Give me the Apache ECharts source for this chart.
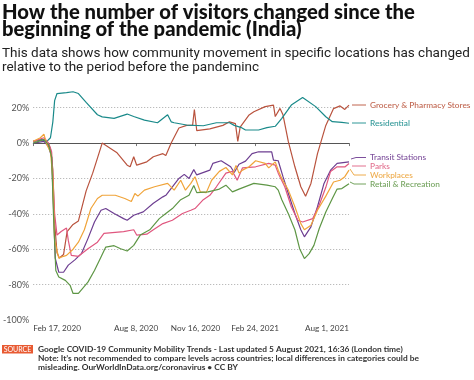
<!DOCTYPE html>
<html><head><meta charset="utf-8">
<script src="https://cdn.jsdelivr.net/npm/echarts@6/dist/echarts.min.js"></script>
<style>html,body{margin:0;padding:0;background:#fff}#c{width:474px;height:380px}</style>
</head><body><div id="c"></div><script>
const startDate = '2020-02-17';
const endDate = '2021-08-01';
const tickDates = ['2020-02-17', '2020-08-08', '2020-11-16', '2021-02-24', '2021-08-01'];
const tickLabels = ['Feb 17, 2020', 'Aug 8, 2020', 'Nov 16, 2020', 'Feb 24, 2021', 'Aug 1, 2021'];

const seriesNames = ['Grocery & Pharmacy Stores', 'Residential', 'Transit Stations', 'Parks', 'Workplaces', 'Retail & Recreation'];
const seriesColors = ['#b9533e', '#1a8a8a', '#6d3e91', '#e0577f', '#f0a43a', '#5e9645'];
const labelColors = ['#c0654f', '#2f9797', '#7d4f9c', '#e2708e', '#eeac4c', '#72a25c'];

const grocery = [
  ['2020-02-17',1],['2020-03-06',2],['2020-03-14',-1],['2020-03-17',-3],['2020-03-21',-15],['2020-03-24',-45],
  ['2020-03-28',-62],['2020-04-01',-65],['2020-04-08',-63],['2020-04-14',-50],['2020-04-24',-46],['2020-05-03',-44],
  ['2020-05-16',-27],['2020-05-27',-17],['2020-06-12',0],['2020-06-15',-0.5],['2020-06-26',-3],['2020-07-07',-5.5],
  ['2020-07-24',-12.5],['2020-07-29',-13.4],['2020-08-04',-7.7],['2020-08-09',-12.5],['2020-08-26',-10.6],
  ['2020-09-06',-7.7],['2020-09-22',-6],['2020-09-27',-7],['2020-10-06',0],['2020-10-19',8.5],['2020-11-01',10],
  ['2020-11-11',10],['2020-11-14',19],['2020-11-18',7],['2020-12-10',8],['2021-01-01',10],['2021-01-12',12],
  ['2021-01-22',11],['2021-01-26',1],['2021-01-30',9],['2021-02-14',15.9],['2021-02-22',17.7],['2021-03-13',20.6],
  ['2021-03-27',21.5],['2021-03-30',15],['2021-04-07',19.6],['2021-04-12',16],['2021-04-21',0.8],['2021-05-02',-13.4],
  ['2021-05-12',-24.7],['2021-05-20',-30],['2021-05-29',-22.8],['2021-06-09',-6],['2021-06-23',10],['2021-07-06',19.5],
  ['2021-07-17',21],['2021-07-25',19],['2021-08-01',21.5]
];
const residential = [
  ['2020-02-17',1],['2020-03-01',2],['2020-03-11',1],['2020-03-17',3],['2020-03-21',12],['2020-03-24',24],
  ['2020-03-28',28],['2020-04-13',28.5],['2020-04-24',29],['2020-05-03',28],['2020-05-16',23],['2020-06-04',16],
  ['2020-06-12',14.8],['2020-07-02',14],['2020-07-24',16.4],['2020-08-04',15],['2020-08-22',13],['2020-09-13',11.5],
  ['2020-09-30',16],['2020-10-06',12],['2020-10-11',11.5],['2020-11-01',10.2],['2020-11-29',9.8],['2020-12-21',11.5],
  ['2021-01-12',11.5],['2021-01-20',10],['2021-01-31',8.9],['2021-02-08',7.4],['2021-03-02',7.4],['2021-03-16',8.7],
  ['2021-03-30',9.5],['2021-04-10',14],['2021-04-26',21.5],['2021-05-15',25.8],['2021-05-18',25.5],['2021-06-06',20.6],
  ['2021-06-23',14.9],['2021-07-04',12.1],['2021-07-20',11.7],['2021-08-01',11.2]
];
const transit = [
  ['2020-02-17',0],['2020-03-06',1],['2020-03-14',-2],['2020-03-19',-8],['2020-03-22',-35],['2020-03-25',-65],
  ['2020-03-31',-73],['2020-04-08',-73],['2020-04-16',-69],['2020-04-27',-66],['2020-05-08',-62.5],['2020-05-19',-54],
  ['2020-05-30',-44.6],['2020-06-10',-38],['2020-06-18',-37],['2020-07-02',-39.8],['2020-07-18',-42.7],['2020-07-24',-43.6],
  ['2020-08-04',-40.8],['2020-08-20',-38.9],['2020-09-06',-34],['2020-09-22',-30.4],['2020-09-27',-29.5],['2020-10-08',-24.7],
  ['2020-10-19',-20],['2020-10-28',-17.7],['2020-11-05',-20],['2020-11-13',-15],['2020-11-18',-18],['2020-12-10',-15.3],
  ['2020-12-15',-11.5],['2020-12-29',-10],['2021-01-14',-13.4],['2021-01-20',-16.6],['2021-01-28',-12],['2021-02-08',-10.2],
  ['2021-02-19',-6],['2021-03-02',-4.9],['2021-03-24',-5],['2021-03-27',-9.6],['2021-04-04',-10],['2021-04-12',-19],
  ['2021-04-21',-28.5],['2021-05-02',-39.8],['2021-05-12',-49],['2021-05-18',-53],['2021-05-29',-47.4],['2021-06-09',-36],
  ['2021-06-20',-22.8],['2021-07-01',-15.3],['2021-07-12',-11.5],['2021-08-01',-10.6]
];
const parks = [
  ['2020-02-17',1],['2020-03-06',3],['2020-03-14',0],['2020-03-19',-5],['2020-03-24',-40],['2020-03-28',-52],
  ['2020-04-04',-50],['2020-04-13',-48],['2020-04-16',-55],['2020-04-21',-63.5],['2020-05-03',-64],['2020-05-19',-59.7],
  ['2020-06-04',-56],['2020-06-15',-51],['2020-07-18',-50],['2020-08-04',-49],['2020-08-09',-52],['2020-08-26',-51.5],
  ['2020-09-06',-49],['2020-09-22',-45.5],['2020-10-08',-43.6],['2020-10-25',-39.8],['2020-11-08',-38],['2020-11-15',-37],
  ['2020-11-29',-32],['2020-12-10',-29.5],['2020-12-21',-24.7],['2021-01-06',-17],['2021-01-17',-16],['2021-01-25',-21],
  ['2021-02-03',-14],['2021-02-25',-13.4],['2021-03-19',-11.5],['2021-03-30',-12.5],['2021-04-04',-17],['2021-04-15',-24.7],
  ['2021-04-26',-36],['2021-05-07',-43.6],['2021-05-15',-44.6],['2021-06-01',-42.7],['2021-06-12',-35],['2021-06-23',-25],
  ['2021-07-01',-16],['2021-07-12',-13.4],['2021-07-25',-13.5],['2021-08-01',-11.5]
];
const workplaces = [
  ['2020-02-17',1],['2020-02-29',3],['2020-03-06',5],['2020-03-11',-1],['2020-03-17',-5],['2020-03-21',-20],
  ['2020-03-24',-55],['2020-03-31',-65],['2020-04-08',-64],['2020-04-13',-63.5],['2020-04-24',-60],['2020-05-03',-56],
  ['2020-05-13',-49],['2020-05-24',-37],['2020-06-04',-31.3],['2020-06-12',-29.5],['2020-07-04',-29.5],['2020-07-20',-31.3],
  ['2020-07-31',-33],['2020-08-06',-28.5],['2020-08-11',-30],['2020-08-22',-26.6],['2020-09-08',-24.7],['2020-09-30',-22.8],
  ['2020-10-11',-26.6],['2020-10-22',-21],['2020-10-30',-26.6],['2020-11-08',-22.8],['2020-11-15',-19],['2020-11-24',-27.6],
  ['2020-12-04',-28],['2020-12-13',-21],['2020-12-26',-16],['2021-01-06',-13.8],['2021-01-17',-18],['2021-01-23',-12.6],
  ['2021-01-28',-17],['2021-02-03',-15.3],['2021-02-14',-13.4],['2021-02-25',-10],['2021-03-13',-11.5],['2021-03-19',-14],
  ['2021-03-30',-10.6],['2021-04-04',-15.3],['2021-04-10',-20],['2021-04-21',-26.6],['2021-05-02',-36],['2021-05-12',-45.5],
  ['2021-05-18',-49],['2021-05-29',-46.5],['2021-06-09',-38],['2021-06-23',-30],['2021-07-06',-22],['2021-07-17',-21],
  ['2021-07-25',-19],['2021-08-01',-15.3]
];
const retail = [
  ['2020-02-17',0],['2020-03-06',2],['2020-03-14',-1],['2020-03-19',-8],['2020-03-22',-40],['2020-03-26',-72],
  ['2020-03-31',-75.7],['2020-04-11',-77.6],['2020-04-19',-80.4],['2020-04-24',-85],['2020-05-03',-85],['2020-05-08',-83],
  ['2020-05-19',-78.6],['2020-05-30',-72],['2020-06-10',-64.4],['2020-06-18',-58.8],['2020-07-02',-58],['2020-07-13',-59.7],
  ['2020-07-24',-61],['2020-08-04',-57.8],['2020-08-15',-52],['2020-08-31',-49],['2020-09-16',-42.7],['2020-09-27',-39.8],
  ['2020-10-08',-37],['2020-10-22',-32],['2020-11-05',-29.5],['2020-11-13',-24],['2020-11-18',-28],['2020-12-07',-27.6],
  ['2020-12-26',-26],['2021-01-06',-23.8],['2021-01-17',-27.6],['2021-01-28',-26],['2021-02-22',-22.8],['2021-03-16',-23.8],
  ['2021-03-30',-24.7],['2021-04-04',-26.6],['2021-04-10',-32],['2021-04-21',-40],['2021-05-02',-49],['2021-05-10',-59.7],
  ['2021-05-18',-65.3],['2021-05-26',-62.5],['2021-06-03',-57.8],['2021-06-12',-48.3],['2021-06-23',-39],['2021-07-04',-31.3],
  ['2021-07-12',-26],['2021-07-20',-25.7],['2021-08-01',-23]
];
const seriesData = [grocery, residential, transit, parks, workplaces, retail];

// categories: every day of the axis range
const categories = [];
for (let d = new Date(startDate + 'T00:00:00Z'); d <= new Date(endDate + 'T00:00:00Z'); d.setUTCDate(d.getUTCDate() + 1)) {
  categories.push(d.toISOString().slice(0, 10));
}

const FONT = 'Lato, "Noto Sans", sans-serif';
const chart = echarts.init(document.getElementById('c'), null, {renderer: 'canvas'});

const graphic = [];
// title and subtitle
const titleLines = ['How the number of visitors changed since the', 'beginning of the pandemic (India)'];
const subLines = ['This data shows how community movement in specific locations has changed', 'relative to the period before the pandeminc'];
titleLines.forEach((t, i) => graphic.push({type: 'text', x: 2, y: 12 + i * 17.5,
  style: {text: t, fill: '#111', font: '900 20.2px ' + FONT, textVerticalAlign: 'middle'}, silent: true}));
subLines.forEach((t, i) => graphic.push({type: 'text', x: 2, y: 54 + i * 13.5,
  style: {text: t, fill: '#222', font: '13.5px Roboto, sans-serif', textVerticalAlign: 'middle'}, silent: true}));

// legend-like labels at the right
const labelYs = [105, 123, 157.5, 166, 175, 184];
const leaders = [
  [[352,105],[366,105]],
  [[352,123],[366,123]],
  [[351,159],[356,157.5],[366,157.5]],
  [[352,166],[366,166]],
  [[350,169],[354,175],[366,175]],
  [[350,182],[354,184],[366,184]]
];
seriesNames.forEach((n, i) => {
  graphic.push({type: 'polyline', shape: {points: leaders[i]}, style: {stroke: labelColors[i], lineWidth: 1, fill: null}, silent: true});
  graphic.push({type: 'text', x: 370, y: labelYs[i], style: {text: n, fill: labelColors[i], font: '500 8.3px ' + FONT, textVerticalAlign: 'middle'}, silent: true});
});
// footer
graphic.push({type: 'rect', shape: {x: 2, y: 345, width: 31, height: 8.5}, style: {fill: '#e85a32'}, silent: true});
graphic.push({type: 'text', x: 17.5, y: 349.3, style: {text: 'SOURCE', fill: '#fff', font: '7px ' + FONT, textAlign: 'center', textVerticalAlign: 'middle'}, silent: true});
const footLines = [
  'Google COVID-19 Community Mobility Trends - Last updated 5 August 2021, 16:36 (London time)',
  'Note: It\u2019s not recommended to compare levels across countries; local differences in categories could be',
  'misleading. OurWorldInData.org/coronavirus \u2022 CC BY'
];
footLines.forEach((t, i) => {
  graphic.push({type: 'text', x: 38, y: 349 + i * 9.3, style: {text: t, fill: '#333', font: 'bold 8.4px ' + FONT, textVerticalAlign: 'middle'}, silent: true});
});

const series = seriesNames.map((n, i) => ({
  name: n,
  type: 'line',
  data: seriesData[i],
  showSymbol: false,
  symbol: 'none',
  lineStyle: {color: seriesColors[i], width: 1.2},
  itemStyle: {color: seriesColors[i]},
  z: 3
}));
series[0].markLine = {
  silent: true, symbol: 'none', label: {show: false},
  lineStyle: {color: '#555', width: 1, type: 'solid'},
  data: [{yAxis: 0}], z: 1
};

chart.setOption({
  animation: false,
  backgroundColor: '#fff',
  grid: {left: 26, right: 125, top: 90, bottom: 60, containLabel: false},
  xAxis: {
    type: 'category', data: categories, boundaryGap: false,
    axisLine: {show: true, lineStyle: {color: '#999', type: [1, 2], width: 1}},
    axisTick: {show: true, length: 3, lineStyle: {color: '#777'}, interval: (idx, v) => tickDates.includes(v)},
    axisLabel: {
      interval: (idx, v) => tickDates.includes(v),
      formatter: v => tickLabels[tickDates.indexOf(v)],
      fontFamily: FONT, fontSize: 8.2, color: '#444', margin: 4,
      alignMinLabel: 'left', alignMaxLabel: 'right'
    },
    splitLine: {show: false}
  },
  yAxis: {
    type: 'value', min: -100, max: 30, interval: 20,
    axisLine: {show: false}, axisTick: {show: false},
    axisLabel: {formatter: v => v + '%', fontFamily: FONT, fontSize: 9, color: '#555', margin: 4, showMaxLabel: false},
    splitLine: {show: true, showMinLine: false, showMaxLine: false, lineStyle: {color: '#aaa', type: [1, 2], width: 1}}
  },
  graphic: graphic,
  series: series
});
</script></body></html>
